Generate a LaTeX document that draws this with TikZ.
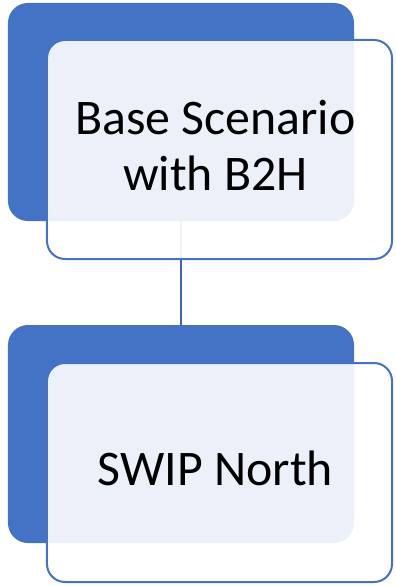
\documentclass[tikz,border=0pt]{standalone}
\usepackage{fontspec}
\setmainfont{Carlito}
\definecolor{accentblue}{HTML}{4472C4}
\definecolor{linkblue}{HTML}{3F66B3}

\begin{document}
\begin{tikzpicture}[x=1bp,y=-1bp,
        backbox/.style={rectangle,rounded corners=20bp,fill=accentblue,inner sep=0pt,
                minimum width=346bp,minimum height=218bp},
        frontbox/.style={rectangle,rounded corners=18bp,draw=accentblue,line width=2bp,
                fill=white,fill opacity=0.9,inner sep=0pt,
                minimum width=345bp,minimum height=219bp},
        boxtext/.style={align=center,inner sep=0pt,text opacity=1,fill opacity=1,
                xshift=-4bp,yshift=4bp,font=\fontsize{50}{56}\selectfont}]
        \useasboundingbox (0,0) rectangle (395,586);
        \node[backbox] (back1) at (181,112) {};
        \node[backbox] (back2) at (181,434) {};
        \draw[linkblue,line width=2bp] (back1.south) -- (back2.north);
        \node[frontbox,label={[boxtext]center:Base Scenario\\with B2H}] (front1) at (219.5,149.5) {};
        \node[frontbox,label={[boxtext]center:SWIP North}] (front2) at (219.5,472.5) {};
        \end{tikzpicture}
\end{document}
